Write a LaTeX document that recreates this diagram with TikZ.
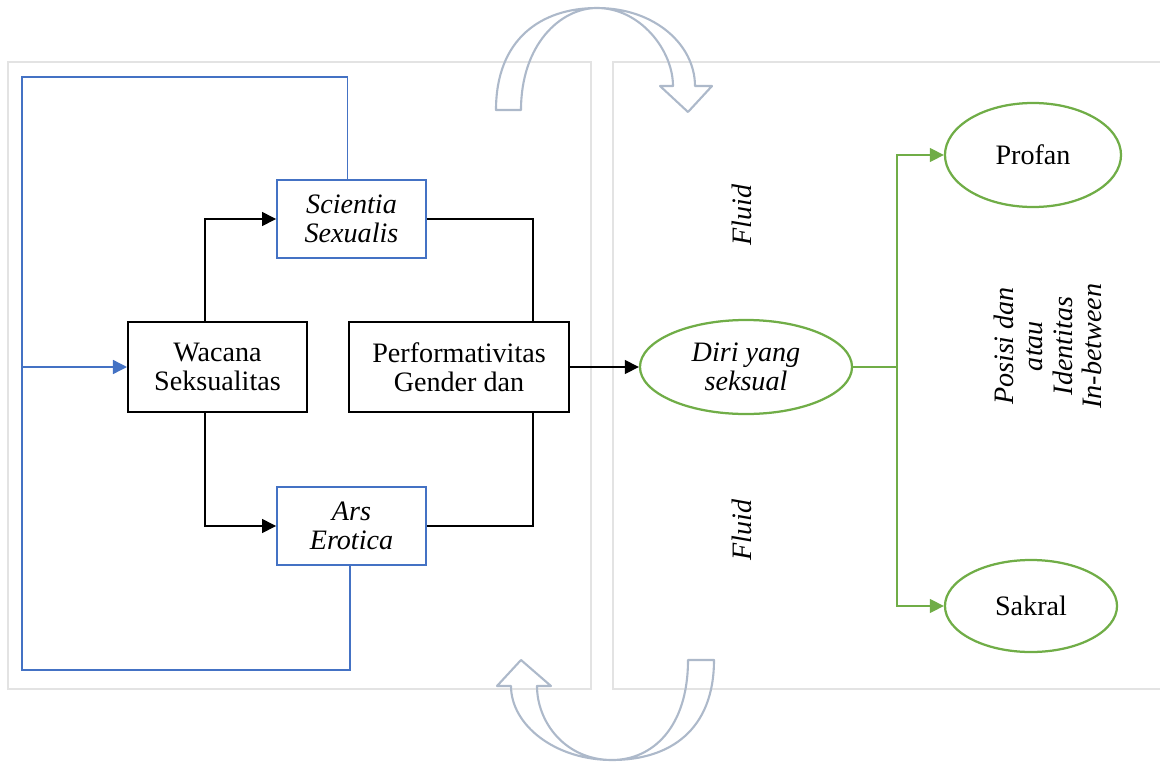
\documentclass[tikz,border=0pt]{standalone}
\usepackage{fontspec}
\setmainfont{Liberation Serif}
\usetikzlibrary{positioning, arrows.meta, shapes}
\definecolor{boxblue}{HTML}{4472C4}
\definecolor{polegreen}{HTML}{70AD47}
\definecolor{swirl}{HTML}{ADB9CA}
\tikzstyle{box} = [rectangle, minimum width=4.475cm, minimum height=2.25cm, inner sep=0pt, align=center, draw=black, line width=1.4pt, font=\fontsize{20}{21}\selectfont]
\tikzstyle{field} = [rectangle, minimum width=3.725cm, minimum height=1.95cm, inner sep=0pt, align=center, draw=boxblue, line width=1.3pt, font=\fontsize{20}{21}\selectfont\itshape]
\tikzstyle{pole} = [ellipse, inner sep=0pt, align=center, draw=polegreen, line width=1.6pt, font=\fontsize{20}{21}\selectfont]
\tikzstyle{drift} = [rotate=90, align=center, font=\fontsize{20}{21}\selectfont\itshape]
\tikzstyle{arrow} = [line width=0.9pt, -{Triangle[length=10pt,width=10pt]}]
\tikzstyle{loop} = [draw=boxblue, line width=1pt]
\tikzstyle{garrow} = [draw=polegreen, line width=1pt, -{Triangle[length=10pt,width=10pt]}]
\tikzstyle{panel} = [draw=gray!22, line width=2pt]
\tikzstyle{turn} = [draw=swirl, line width=1.5pt, line join=round]

\begin{document}
\begin{tikzpicture}[x=0.025cm, y=-0.025cm]
        \useasboundingbox (0,0) rectangle (1160,764);

        % the two frames
        \draw [panel] (8,62) rectangle (591,689);
        \draw [panel] (1160,62) -- (613,62) -- (613,689) -- (1160,689);

        \node (wacana) [box] at (217.5,367) {Wacana\\Seksualitas};
        \node (perf) [box, right=1cm of wacana, minimum width=5.5cm] {Performativitas\\Gender dan};
        \node (scientia) [field] at (351.5,219) {Scientia\\Sexualis};
        \node (ars) [field] at (351.5,526) {Ars\\Erotica};
        \node (diri) [pole, minimum width=5.3cm, minimum height=2.35cm, font=\fontsize{20}{21}\selectfont\itshape] at (746,367) {Diri yang\\seksual};
        \node (profan) [pole, minimum width=4.4cm, minimum height=2.6cm] at (1033,155) {Profan};
        \node (sakral) [pole, minimum width=4.3cm, minimum height=2.3cm] at (1031,606) {Sakral};
        \node (fluidup) [drift] at (742,215) {Fluid};
        \node (fluiddown) [drift] at (742,530) {Fluid};
        \node (posisi) [drift] at (1048,346) {Posisi dan\\atau\\Identitas\\In-between};

        \coordinate (looptop) at (22,77);
        \coordinate (loopbottom) at (22,670);
        \coordinate (split) at (897,367);

        % blue feedback loop
        \draw [loop] ([xshift=-0.1cm]scientia.north) |- (looptop) -- (loopbottom) -| ([xshift=-0.04cm]ars.south);
        \draw [loop, -{Triangle[length=10pt,width=10pt]}] (looptop |- wacana.west) -- (wacana.west);

        \draw [arrow] ([xshift=-0.31cm]wacana.north) |- (scientia.west);
        \draw [arrow] ([xshift=-0.31cm]wacana.south) |- (ars.west);
        \draw [line width=0.9pt] (scientia.east) -| ([xshift=1.85cm]perf.north);
        \draw [line width=0.9pt] (ars.east) -| ([xshift=1.85cm]perf.south);
        \draw [arrow] (perf.east) -- (diri.west);

        \draw [draw=polegreen, line width=1pt] (diri.east) -- (split);
        \draw [garrow] (split) |- (profan.west);
        \draw [garrow] (split) |- (sakral.west);

        % curved hollow arrows
        \draw [turn] (496,110) .. controls (496,40) and (540,8) .. (597,8)
              .. controls (640,8) and (673,50) .. (673,86)
              -- (660,86) -- (688,112) -- (712,86) -- (695,86)
              .. controls (695,45) and (655,8) .. (597,8)
              .. controls (560,8) and (521,45) .. (521,110) -- cycle;
        \draw [turn] (714,660) .. controls (714,730) and (670,760) .. (612,760)
              .. controls (565,760) and (537,722) .. (537,686)
              -- (551,686) -- (521,660) -- (497,686) -- (511,686)
              .. controls (511,725) and (555,760) .. (612,760)
              .. controls (652,760) and (688,728) .. (688,660) -- cycle;

\end{tikzpicture}
\end{document}
